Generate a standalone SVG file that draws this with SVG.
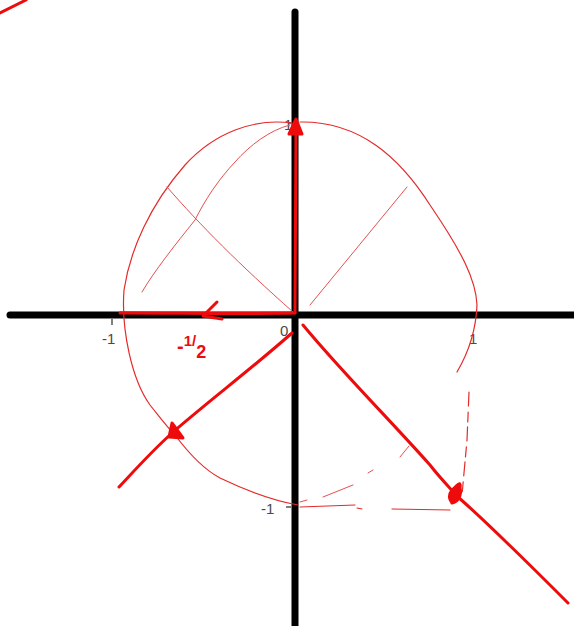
<svg xmlns="http://www.w3.org/2000/svg" width="574" height="626" viewBox="0 0 574 626">
<style>
.axis{stroke:#000;stroke-width:7;fill:none;stroke-linecap:round}
.tick{stroke:#555;stroke-width:1.5}
.lbl{font-family:"Liberation Sans",Arial,sans-serif;font-size:15px;fill:#4a4a4a}
.thin{stroke:#e52a2a;stroke-width:1.2;fill:none;stroke-linecap:round;stroke-linejoin:round}
.faint{stroke:#e55050;stroke-width:1;fill:none;stroke-linecap:round}
.bold{stroke:#ee0b0b;stroke-width:3;fill:none;stroke-linecap:round;stroke-linejoin:round}
.head{fill:#ee0b0b;stroke:#ee0b0b;stroke-width:3;stroke-linejoin:round;stroke-linecap:round}
.hand{font-family:"Liberation Sans",Arial,sans-serif;font-weight:bold;fill:#ee0b0b}
</style>
<rect width="574" height="626" fill="#fff"/>
<g id="axes">
<line class="axis" x1="295" y1="12" x2="295" y2="626"/>
<line class="axis" x1="10" y1="315" x2="574" y2="315"/>
</g>
<g id="ticks">
<line class="tick" x1="112" y1="319" x2="112" y2="325"/>
<line class="tick" x1="288" y1="123" x2="292" y2="123"/>
<line class="tick" x1="286" y1="507" x2="291" y2="507"/>
<text class="lbl" x="284" y="130">1</text>
<text class="lbl" x="102" y="344">-1</text>
<text class="lbl" x="280" y="336">0</text>
<text class="lbl" x="469" y="344">1</text>
<text class="lbl" x="261" y="514">-1</text>
</g>
<g id="corner-stroke">
<line class="bold" x1="0" y1="13" x2="26" y2="0" stroke-width="2.5"/>
</g>
<g id="curves">
<path class="thin" d="M300,122 C360,121 400,158 430,205 C462,252 476,280 477,305 C476,330 470,350 457,372"/>
<path class="thin" d="M292,123 C255,118 215,132 185,165 C150,205 130,250 124,290 C121,330 132,380 150,405 C162,420 168,428 175,435 C190,455 205,470 220,478 C245,490 270,500 298,505"/>
<path class="faint" d="M290,125 C270,130 250,145 235,162 C218,180 205,200 195,220 C175,245 155,270 142,292"/>
<path class="faint" d="M167,187 C200,225 240,265 293,312"/>
<path class="faint" d="M310,305 L407,187"/>
<path class="thin" d="M469,392 L467,440 L462,495" stroke-dasharray="14 6 10 5"/>
<path class="thin" d="M300,507 L355,505 M357,508 L362,509 M392,509 L450,510"/>
<path class="faint" d="M300,502 L307,500 M323,497 L353,485 M368,473 L373,470 M400,457 L409,446"/>
</g>
<g id="vectors">
<path class="bold" d="M295,313 L296,125"/>
<path class="head" d="M289,134 L296,119 L302,134 Z"/>
<path class="bold" d="M295,313 C250,314 180,313 120,313" stroke-width="2.5"/>
<path class="bold" d="M217,302 L203,316 L222,319" stroke-width="4.5"/>
<path class="bold" d="M292,333 C250,370 210,400 172,433 C150,453 135,470 119,487" stroke-width="2.5"/>
<path class="head" d="M172,423 L169,437 L183,438 Z"/>
<path class="bold" d="M303,325 C340,370 390,420 430,465 C440,478 450,488 458,497 C490,525 530,565 568,603"/>
<path class="head" d="M452,490 C458,485 461,480 460,488 C462,495 458,502 452,503 C448,498 449,494 452,490 Z"/>
</g>
<g id="label-half">
<text class="hand" font-size="20" x="177" y="353">-<tspan font-size="15" dy="-7">1</tspan><tspan font-size="15" dy="0">/</tspan><tspan font-size="18" dy="12">2</tspan></text>
</g>
</svg>
